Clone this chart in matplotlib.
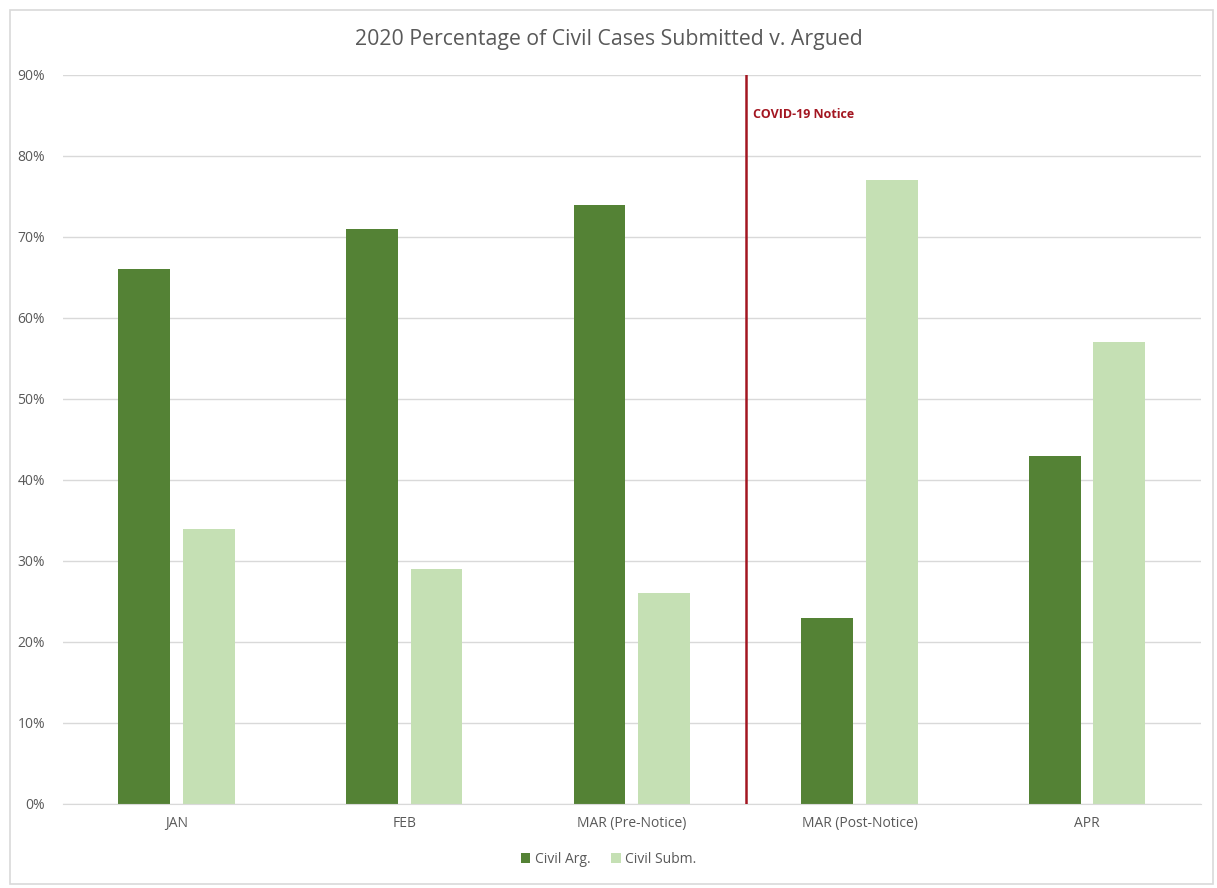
import numpy as np
import matplotlib.pyplot as plt
from matplotlib.patches import Rectangle

categories = ['JAN', 'FEB', 'MAR (Pre-Notice)', 'MAR (Post-Notice)', 'APR']
civil_arg = [66, 71, 74, 23, 43]
civil_subm = [34, 29, 26, 77, 57]
notice_label = 'COVID-19 Notice'

plt.rcParams['font.family'] = ['Open Sans', 'DejaVu Sans']

fig = plt.figure(figsize=(12.17, 8.88), dpi=100)
fig.patches.append(Rectangle((0.008, 0.004), 0.989, 0.985, transform=fig.transFigure,
                             fill=False, edgecolor='#d9d9d9', linewidth=1.2))
ax = fig.add_axes([0.0518, 0.0946, 0.935, 0.821])

x = np.arange(len(categories))
w = 0.228
ax.bar(x - 0.143, civil_arg, w, color='#548235', label='Civil Arg.', zorder=2)
ax.bar(x + 0.141, civil_subm, w, color='#c5e0b4', label='Civil Subm.', zorder=2)

# notice line between the two March groups
ax.axvline(2.5, ymin=0, ymax=1, color='#a31621', linewidth=1.8, zorder=3)
ax.text(2.53, 85.1, notice_label, color='#a31621', fontsize=9, fontweight='bold',
        va='center', ha='left')

ax.set_xlim(-0.5, 4.5)
ax.set_ylim(0, 90)
ax.set_yticks(range(0, 91, 10))
ax.set_yticklabels([f'{v}%' for v in range(0, 91, 10)])
ax.set_xticks(x)
ax.set_xticklabels(categories)
ax.tick_params(colors='#595959', labelsize=10, length=0)
ax.tick_params(axis='y', pad=13)
ax.tick_params(axis='x', pad=9)
ax.grid(axis='y', color='#d9d9d9', linewidth=1, zorder=0)
for s in ['top', 'right', 'left']:
    ax.spines[s].set_visible(False)
ax.spines['bottom'].set_color('#d9d9d9')

fig.suptitle('2020 Percentage of Civil Cases Submitted v. Argued', y=0.967,
             fontsize=15.3, color='#595959')

fig.legend(loc='center', bbox_to_anchor=(0.5, 0.032), ncol=2, frameon=False,
           fontsize=10, labelcolor='#595959', handlelength=0.7, handleheight=0.7,
           handletextpad=0.3, columnspacing=1.5)

fig.savefig('out.png', dpi=100)
